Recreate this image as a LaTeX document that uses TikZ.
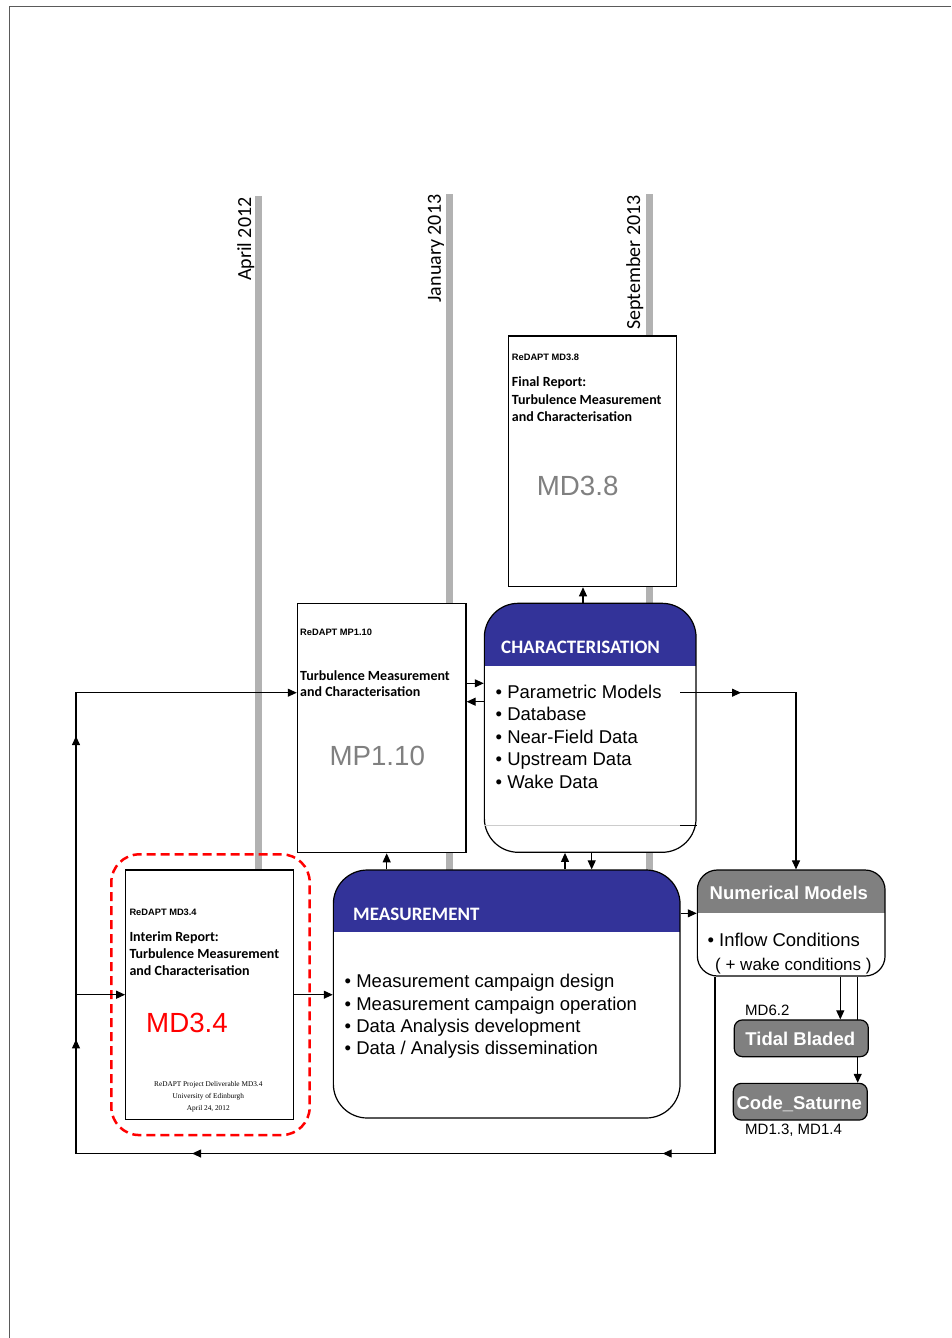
\documentclass[tikz,border=0pt]{standalone}
\usepackage{fontspec}
\setmainfont{Liberation Sans}
\newfontfamily\calfont{Carlito}
\newfontfamily\serfont{Liberation Serif}
\usetikzlibrary{arrows.meta,decorations.markings}
\definecolor{hdrblue}{RGB}{51,51,153}
\definecolor{nmgray}{RGB}{128,128,128}
\definecolor{bargray}{RGB}{178,178,178}
\definecolor{framegray}{RGB}{90,90,90}
\definecolor{txtgray}{RGB}{128,128,128}
\definecolor{mdred}{RGB}{255,0,0}
\begin{document}
\begin{tikzpicture}[x=1pt,y=-1pt,
  >={Triangle[length=9pt,width=8pt]},
  doc/.style={draw, fill=white, line width=1.2pt, inner sep=0pt},
  pane/.style={draw, fill=white, line width=1.2pt, inner sep=0pt},
  tool/.style={draw, fill=nmgray, line width=1.2pt, inner sep=0pt, rounded corners=8pt, minimum width=134pt, minimum height=36.7pt},
  conn/.style={line width=1.1pt, ->},
  wire/.style={line width=1.1pt},
  txt/.style={inner sep=0pt, anchor=base west},
  small/.style={txt, font=\fontsize{9.3}{11}\selectfont\bfseries},
  ttl/.style={txt, font=\calfont\fontsize{14}{17}\selectfont\bfseries},
  big/.style={txt, font=\fontsize{27.7}{32}\selectfont},
  hdr/.style={txt, text=white, font=\calfont\fontsize{19}{22}\selectfont\bfseries},
  bul/.style={txt, font=\fontsize{18.5}{22.5}\selectfont},
  date/.style={inner sep=0pt, rotate=90, anchor=south east, font=\calfont\fontsize{20}{24}\selectfont},
  bar/.style={fill=bargray},
]
\useasboundingbox (0,0) rectangle (951,1338);
% page frame
\draw[framegray, line width=1.5pt] (9.5,1338) -- (9.5,6.5) -- (951,6.5);

% timeline bars
\fill[bar] (255,196) rectangle (262,870);
\fill[bar] (446,194) rectangle (453,870);
\fill[bar] (646,194) rectangle (653,870);
\node[date] (d1) at (254.5,197.3) {April 2012};
\node[date] (d2) at (444.3,194.5) {January 2013};
\node[date] (d3) at (643.5,195) {September 2013};

% helper coordinates
\coordinate (c76) at (76,0);
\coordinate (c387) at (386.7,0);
\coordinate (c565) at (565,0);
\coordinate (c583) at (583,0);
\coordinate (c592) at (591.7,0);
\coordinate (c680) at (680,0);
\coordinate (c715) at (715,0);
\coordinate (c796) at (796,0);
\coordinate (c840) at (840.3,0);
\coordinate (c858) at (857.7,0);
\coordinate (r683) at (0,683.3);
\coordinate (r702) at (0,701.7);
\coordinate (r693) at (0,692.7);
\coordinate (r826) at (0,825.7);
\coordinate (r913) at (0,913.3);

% documents
\node[doc, minimum width=168.4pt, minimum height=250.7pt] (md38) at (592.5,461.3) {};
\node[doc, minimum width=168.7pt, minimum height=249.4pt] (mp) at (381.7,728) {};
\node[doc, minimum width=168pt, minimum height=249.3pt] (md34) at (209.7,994.7) {};

% characterisation
\node[pane, rounded corners=34pt, minimum width=211.7pt, minimum height=249pt,
  path picture={\fill[hdrblue, sharp corners] (path picture bounding box.north west) rectangle ([yshift=-62.7pt]path picture bounding box.north east);}]
  (char) at (590.2,727.8) {};
% measurement
\node[pane, rounded corners=34pt, minimum width=346.7pt, minimum height=248pt,
  path picture={\fill[hdrblue, sharp corners] (path picture bounding box.north west) rectangle ([yshift=-61.7pt]path picture bounding box.north east);}]
  (meas) at (506.7,994) {};
% numerical models
\node[pane, rounded corners=20pt, minimum width=187.7pt, minimum height=106pt,
  path picture={\fill[nmgray, sharp corners] (path picture bounding box.north west) rectangle ([yshift=-43.3pt]path picture bounding box.north east);}]
  (nm) at (791.2,923) {};
\node[tool] (cs) at (800.3,1101.7) {};
\draw[conn] (c858 |- nm.south) -- (c858 |- cs.north);
\node[tool] (tb) at (801.3,1038.3) {};

% highlight
\node[draw=mdred, line width=2.5pt, dash pattern=on 9pt off 5pt, rounded corners=28pt,
  minimum width=198.4pt, minimum height=280.7pt, inner sep=0pt] (hl) at (210.5,994.7) {};

% texts MD3.8
\node[small] (t38a) at (511.7,360) {ReDAPT MD3.8};
\node[ttl] (t38b) at (511.7,386.7) {Final Report:};
\node[ttl] (t38c) at (511.7,404) {Turbulence Measurement};
\node[ttl] (t38d) at (511.7,421) {and Characterisation};
\node[big, text=txtgray] (t38e) at (536.7,495.7) {MD3.8};
% MP1.10
\node[small] (tmpa) at (300,635.7) {ReDAPT MP1.10};
\node[ttl] (tmpb) at (300,680) {Turbulence Measurement};
\node[ttl] (tmpc) at (300,696) {and Characterisation};
\node[big, text=txtgray] (tmpd) at (329.3,765.7) {MP1.10};
% MD3.4
\node[small] (t34a) at (129.3,915.7) {ReDAPT MD3.4};
\node[ttl] (t34b) at (129.3,941.7) {Interim Report:};
\node[ttl] (t34c) at (129.3,958.3) {Turbulence Measurement};
\node[ttl] (t34d) at (129.3,975) {and Characterisation};
\node[big, text=mdred] (t34e) at (146,1032.7) {MD3.4};
\node[inner sep=0pt, anchor=base, font=\serfont\fontsize{7.3}{9}\selectfont] (t34f) at (208.3,1086.7) {ReDAPT Project Deliverable MD3.4};
\node[inner sep=0pt, anchor=base, font=\serfont\fontsize{7.3}{9}\selectfont] (t34g) at (208.3,1098.3) {University of Edinburgh};
\node[inner sep=0pt, anchor=base, font=\serfont\fontsize{7.3}{9}\selectfont] (t34h) at (208.3,1110) {April 24, 2012};

% characterisation texts
\node[hdr] (tch) at (501,653.3) {CHARACTERISATION};
\node[bul] (b1) at (495.5,698.3) {• Parametric Models};
\node[bul] (b2) at (495.5,720.5) {• Database};
\node[bul] (b3) at (495.5,743) {• Near-Field Data};
\node[bul] (b4) at (495.5,765.3) {• Upstream Data};
\node[bul] (b5) at (495.5,788) {• Wake Data};
\draw[black!20, line width=0.8pt] (char.west |- r826) -- (char.east |- r826);
\draw[wire] (c680 |- r826) -- (char.east |- r826);

% measurement texts
\node[hdr] (tme) at (353,920) {MEASUREMENT};
\node[bul] (m1) at (344.5,987.7) {• Measurement campaign design};
\node[bul] (m2) at (344.5,1010) {• Measurement campaign operation};
\node[bul] (m3) at (344.5,1032.7) {• Data Analysis development};
\node[bul] (m4) at (344.5,1054.5) {• Data / Analysis dissemination};

% numerical models texts
\node[txt, text=white, font=\fontsize{18.5}{22}\selectfont\bfseries] (tnm) at (709.5,899) {Numerical Models};
\node[bul] (n1) at (707.3,946) {• Inflow Conditions};
\node[txt, font=\fontsize{17}{20}\selectfont] (n2) at (715,970) {( + wake conditions )};
\node[inner sep=0pt, anchor=base, text=white, font=\fontsize{18.5}{22}\selectfont\bfseries] (ttb) at (800.3,1045) {Tidal Bladed};
\node[inner sep=0pt, anchor=base, text=white, font=\fontsize{18.5}{22}\selectfont\bfseries] (tcs) at (799.3,1109) {Code\_Saturne};
\node[txt, font=\fontsize{15}{18}\selectfont] (l62) at (745,1015) {MD6.2};
\node[txt, font=\fontsize{15}{18}\selectfont] (l13) at (745,1134) {MD1.3, MD1.4};

% connectors
\draw[conn] (c583 |- char.north) -- (c583 |- md38.south);
\draw[conn] (mp.east |- r683) -- (char.west |- r683);
\draw[conn] (char.west |- r702) -- (mp.east |- r702);
\draw[conn] (c387 |- meas.north) -- (c387 |- mp.south);
\draw[conn] (c565 |- meas.north) -- (c565 |- char.south);
\draw[conn] (c592 |- char.south) -- (c592 |- meas.north);
\draw[conn, postaction={decorate}, decoration={markings, mark=at position 61pt with {\arrow{>}}}]
  (c680 |- r693) -- (c796 |- r693) -- (c796 |- nm.north);
\draw[conn] (meas.east |- r913) -- (nm.west |- r913);
\draw[conn] (c840 |- nm.south) -- (c840 |- tb.north);
\draw[conn, postaction={decorate}, decoration={markings,
    mark=at position 229.2pt with {\arrow{>}},
    mark=at position 699.8pt with {\arrow{>}},
    mark=at position 930pt with {\arrow{>}},
    mark=at position 1233.3pt with {\arrow{>}}}]
  (c715 |- nm.south) -- (715,1153.5) -- (76,1153.5) -- (c76 |- r693) -- (mp.west |- r693);
\draw[conn] (c76 |- md34.west) -- (md34.west);
\draw[conn] (md34.east) -- (meas.west |- md34.east);
\end{tikzpicture}
\end{document}
